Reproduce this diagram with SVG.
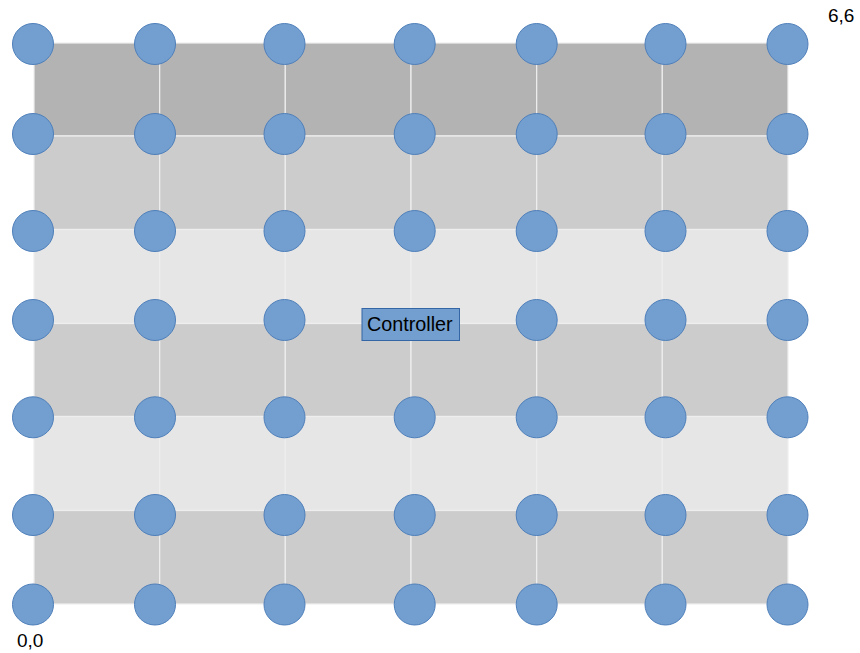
<svg xmlns="http://www.w3.org/2000/svg" width="860" height="653" viewBox="0 0 860 653">
<defs>
<style>
.cell{stroke:#eeeeee;stroke-width:1.2}
.d{fill:#b3b3b3}
.m{fill:#cccccc}
.l{fill:#e6e6e6}
.n{fill:#729fcf;stroke:#4f7fba;stroke-width:1}
text{font-family:"Liberation Sans",Arial,sans-serif;font-size:19px;fill:#000}
</style>
</defs>
<rect width="860" height="653" fill="#ffffff"/>
<g id="grid">
<g class="d">
<rect class="cell" x="34" y="43" width="125.7" height="93"/><rect class="cell" x="159.7" y="43" width="125.6" height="93"/><rect class="cell" x="285.3" y="43" width="125.7" height="93"/><rect class="cell" x="411" y="43" width="125.7" height="93"/><rect class="cell" x="536.7" y="43" width="125.6" height="93"/><rect class="cell" x="662.3" y="43" width="125.7" height="93"/>
</g>
<g class="m">
<rect class="cell" x="34" y="136" width="125.7" height="93.5"/><rect class="cell" x="159.7" y="136" width="125.6" height="93.5"/><rect class="cell" x="285.3" y="136" width="125.7" height="93.5"/><rect class="cell" x="411" y="136" width="125.7" height="93.5"/><rect class="cell" x="536.7" y="136" width="125.6" height="93.5"/><rect class="cell" x="662.3" y="136" width="125.7" height="93.5"/>
</g>
<g class="l">
<rect class="cell" x="34" y="229.5" width="125.7" height="94"/><rect class="cell" x="159.7" y="229.5" width="125.6" height="94"/><rect class="cell" x="285.3" y="229.5" width="125.7" height="94"/><rect class="cell" x="411" y="229.5" width="125.7" height="94"/><rect class="cell" x="536.7" y="229.5" width="125.6" height="94"/><rect class="cell" x="662.3" y="229.5" width="125.7" height="94"/>
</g>
<g class="m">
<rect class="cell" x="34" y="323.5" width="125.7" height="93"/><rect class="cell" x="159.7" y="323.5" width="125.6" height="93"/><rect class="cell" x="285.3" y="323.5" width="125.7" height="93"/><rect class="cell" x="411" y="323.5" width="125.7" height="93"/><rect class="cell" x="536.7" y="323.5" width="125.6" height="93"/><rect class="cell" x="662.3" y="323.5" width="125.7" height="93"/>
</g>
<g class="l">
<rect class="cell" x="34" y="416.5" width="125.7" height="94"/><rect class="cell" x="159.7" y="416.5" width="125.6" height="94"/><rect class="cell" x="285.3" y="416.5" width="125.7" height="94"/><rect class="cell" x="411" y="416.5" width="125.7" height="94"/><rect class="cell" x="536.7" y="416.5" width="125.6" height="94"/><rect class="cell" x="662.3" y="416.5" width="125.7" height="94"/>
</g>
<g class="m">
<rect class="cell" x="34" y="510.5" width="125.7" height="93.5"/><rect class="cell" x="159.7" y="510.5" width="125.6" height="93.5"/><rect class="cell" x="285.3" y="510.5" width="125.7" height="93.5"/><rect class="cell" x="411" y="510.5" width="125.7" height="93.5"/><rect class="cell" x="536.7" y="510.5" width="125.6" height="93.5"/><rect class="cell" x="662.3" y="510.5" width="125.7" height="93.5"/>
</g>
</g>
<g id="connectors"></g>
<g id="nodes">
<g id="row6"><circle class="n" cx="33" cy="44" r="20.5"/><circle class="n" cx="155" cy="44" r="20.5"/><circle class="n" cx="284.5" cy="44" r="20.5"/><circle class="n" cx="414.7" cy="44" r="20.5"/><circle class="n" cx="536.7" cy="44" r="20.5"/><circle class="n" cx="665.5" cy="44" r="20.5"/><circle class="n" cx="787.5" cy="44" r="20.5"/></g>
<g id="row5"><circle class="n" cx="33" cy="134" r="20.5"/><circle class="n" cx="155" cy="134" r="20.5"/><circle class="n" cx="284.5" cy="134" r="20.5"/><circle class="n" cx="414.7" cy="134" r="20.5"/><circle class="n" cx="536.7" cy="134" r="20.5"/><circle class="n" cx="665.5" cy="134" r="20.5"/><circle class="n" cx="787.5" cy="134" r="20.5"/></g>
<g id="row4"><circle class="n" cx="33" cy="231" r="20.5"/><circle class="n" cx="155" cy="231" r="20.5"/><circle class="n" cx="284.5" cy="231" r="20.5"/><circle class="n" cx="414.7" cy="231" r="20.5"/><circle class="n" cx="536.7" cy="231" r="20.5"/><circle class="n" cx="665.5" cy="231" r="20.5"/><circle class="n" cx="787.5" cy="231" r="20.5"/></g>
<g id="row3"><circle class="n" cx="33" cy="320" r="20.5"/><circle class="n" cx="155" cy="320" r="20.5"/><circle class="n" cx="284.5" cy="320" r="20.5"/><circle class="n" cx="536.7" cy="320" r="20.5"/><circle class="n" cx="665.5" cy="320" r="20.5"/><circle class="n" cx="787.5" cy="320" r="20.5"/></g>
<g id="row2"><circle class="n" cx="33" cy="417.3" r="20.5"/><circle class="n" cx="155" cy="417.3" r="20.5"/><circle class="n" cx="284.5" cy="417.3" r="20.5"/><circle class="n" cx="414.7" cy="417.3" r="20.5"/><circle class="n" cx="536.7" cy="417.3" r="20.5"/><circle class="n" cx="665.5" cy="417.3" r="20.5"/><circle class="n" cx="787.5" cy="417.3" r="20.5"/></g>
<g id="row1"><circle class="n" cx="33" cy="515" r="20.5"/><circle class="n" cx="155" cy="515" r="20.5"/><circle class="n" cx="284.5" cy="515" r="20.5"/><circle class="n" cx="414.7" cy="515" r="20.5"/><circle class="n" cx="536.7" cy="515" r="20.5"/><circle class="n" cx="665.5" cy="515" r="20.5"/><circle class="n" cx="787.5" cy="515" r="20.5"/></g>
<g id="row0"><circle class="n" cx="33" cy="604.5" r="20.5"/><circle class="n" cx="155" cy="604.5" r="20.5"/><circle class="n" cx="284.5" cy="604.5" r="20.5"/><circle class="n" cx="414.7" cy="604.5" r="20.5"/><circle class="n" cx="536.7" cy="604.5" r="20.5"/><circle class="n" cx="665.5" cy="604.5" r="20.5"/><circle class="n" cx="787.5" cy="604.5" r="20.5"/></g>
<g id="controller">
<rect x="362" y="308.5" width="97.5" height="32" fill="#729fcf" stroke="#3465a4" stroke-width="1"/>
<text x="409.8" y="331" text-anchor="middle" style="font-size:19.8px">Controller</text>
</g>
</g>
<g id="labels">
<text x="828" y="22">6,6</text>
<text x="17" y="647">0,0</text>
</g>
</svg>
